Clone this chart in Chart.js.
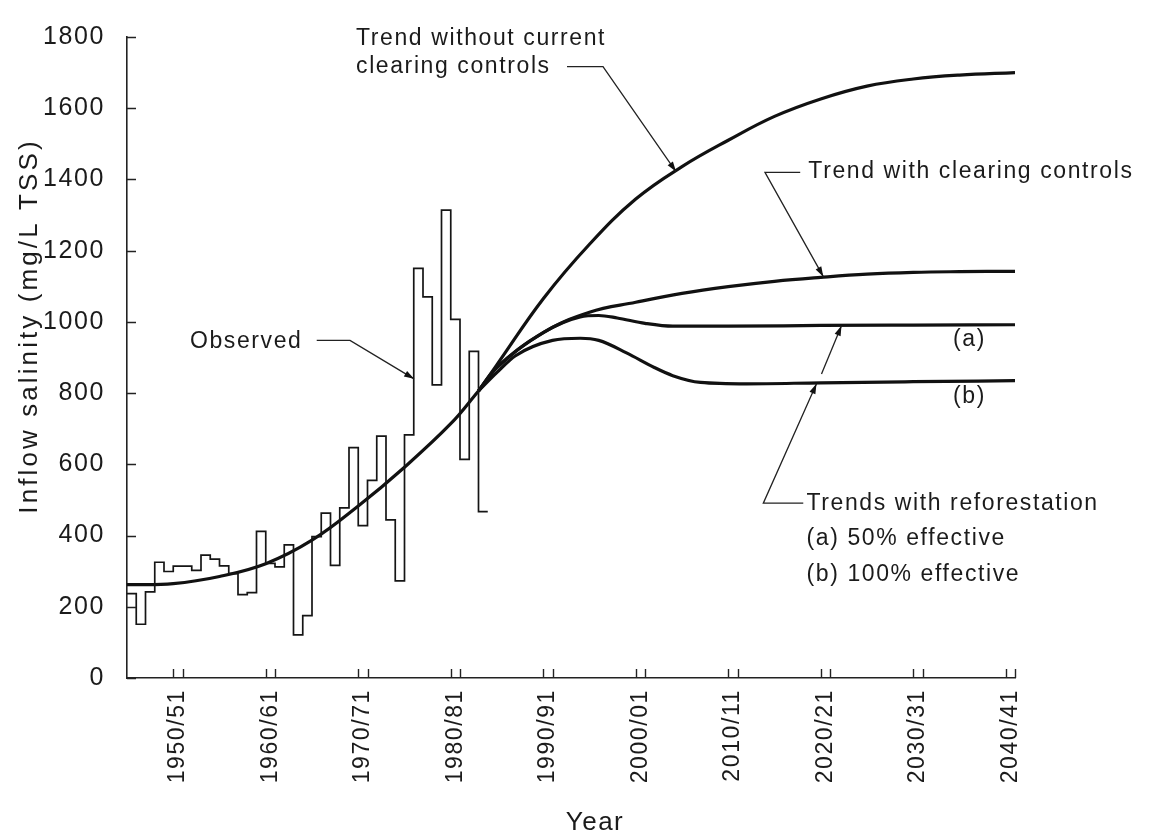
<!DOCTYPE html>
<html>
<head>
<meta charset="utf-8">
<script src="https://cdn.jsdelivr.net/npm/chart.js@4.4.1/dist/chart.umd.min.js"></script>
<style>
html,body{margin:0;padding:0;background:#fff;}
canvas{display:block;}
</style>
</head>
<body>
<canvas id="c" width="1157" height="837"></canvas>
<script>
// ---------- DATA ----------
const observedYears = [1945,1946,1947,1948,1949,1950,1951,1952,1953,1954,1955,1956,1957,1958,1959,1960,1961,1962,1963,1964,1965,1966,1967,1968,1969,1970,1971,1972,1973,1974,1975,1976,1977,1978,1979,1980,1981,1982,1983];
const observedValues = [237,151,242,325,299,314,314,302,345,334,315,293,234,240,412,322,312,374,121,175,397,463,316,478,647,428,555,679,444,273,683,1150,1070,823,1314,1007,614,917,467];

const trendYears  = [1945,1950,1955,1960,1965,1970,1975,1980,1983];
const trendValues = [262,265,285,321,387,483,592,714,806];

const noControlYears  = [1983,1985,1990,1995,2000,2005,2010,2015,2020,2025,2030,2035,2041];
const noControlValues = [806,880,1065,1218,1345,1436,1510,1577,1626,1662,1682,1693,1700];

const controlYears  = [1983,1985,1990,1995,2000,2005,2010,2015,2020,2025,2030,2035,2041];
const controlValues = [806,872,970,1027,1055,1080,1099,1114,1125,1134,1139,1141,1142];

const reforestAYears  = [1983,1985,1990,1994,1996,1998,2001,2004,2010,2020,2030,2041];
const reforestAValues = [806,872,970,1014,1018,1011,996,988,988,990,991,992];

const reforestBYears  = [1983,1985,1987,1991,1994,1996,1999,2002,2004,2007,2012,2020,2030,2041];
const reforestBValues = [806,858,905,948,954,948,913,872,849,830,826,829,832,835];

const xTickYears  = [1950,1960,1970,1980,1990,2000,2010,2020,2030,2040];
const xTickLabels = ['1950/51','1960/61','1970/71','1980/81','1990/91','2000/01','2010/11','2020/21','2030/31','2040/41'];
const yTickValues = [0,200,400,600,800,1000,1200,1400,1600,1800];
const yTickLabels = ['0','200','400','600','800','1000','1200','1400','1600','1800'];

const yAxisTitle = 'Inflow salinity (mg/L TSS)';
const xAxisTitle = 'Year';

// annotation texts (anchored in data units: year, value)
const noteTexts = [
  {text:'Observed', year:1951.8, value:926},
  {text:'Trend without current', year:1969.76, value:1777},
  {text:'clearing controls', year:1969.76, value:1699},
  {text:'Trend with clearing controls', year:2018.66, value:1403},
  {text:'(a)', year:2034.3, value:932},
  {text:'(b)', year:2034.3, value:772},
  {text:'Trends with reforestation', year:2018.46, value:471},
  {text:'(a) 50% effective', year:2018.46, value:373},
  {text:'(b) 100% effective', year:2018.46, value:272}
];
const noteLeaders = [
  [[1965.51,948],[1969.11,948],[1976.03,840]],
  [[1992.57,1717],[1996.46,1717],[2004.35,1422]],
  [[2017.78,1420],[2013.97,1420],[2020.28,1127]],
  [[2018.11,491],[2013.79,491],[2019.54,826]],
  [[2020.08,854],[2022.24,989]]
];

// ---------- helpers ----------
const FONT = '"Liberation Sans", Arial, Helvetica, sans-serif';
const INK = '#1b1b1b';
const pts = (xs, ys) => xs.map((x, i) => ({x, y: ys[i]}));
const observedPoints = pts(observedYears, observedValues);
observedPoints.push({x: observedYears[observedYears.length - 1] + 1, y: observedValues[observedValues.length - 1]});

const curve = (xs, ys, smooth) => ({
  data: pts(xs, ys), borderColor: '#111', borderWidth: 3.2, pointRadius: 0,
  cubicInterpolationMode: smooth ? 'default' : 'monotone', tension: smooth ? 0.4 : 0, fill: false
});

function arrowHead(ctx, x0, y0, x1, y1) {
  const a = Math.atan2(y1 - y0, x1 - x0), L = 10, W = 3.2;
  const bx = x1 - L * Math.cos(a), by = y1 - L * Math.sin(a);
  ctx.beginPath();
  ctx.moveTo(x1, y1);
  ctx.lineTo(bx + W * Math.sin(a), by - W * Math.cos(a));
  ctx.lineTo(bx - W * Math.sin(a), by + W * Math.cos(a));
  ctx.closePath();
  ctx.fill();
}

const spacing = {
  id: 'spacing',
  beforeDraw(chart) { chart.ctx.letterSpacing = '1.6px'; }
};

const decorations = {
  id: 'decorations',
  afterDatasetsDraw(chart) {
    const {ctx, chartArea: a, scales: {x, y}} = chart;
    ctx.save();
    // inward tick marks
    ctx.strokeStyle = '#222';
    ctx.lineWidth = 1.4;
    ctx.beginPath();
    xTickYears.forEach(yr => {
      [yr, yr + 1].forEach(v => {
        const px = Math.round(x.getPixelForValue(v)) + 0.5;
        ctx.moveTo(px, a.bottom);
        ctx.lineTo(px, a.bottom - 9);
      });
    });
    yTickValues.forEach(v => {
      const py = Math.round(y.getPixelForValue(v)) + 0.5;
      ctx.moveTo(a.left, py);
      ctx.lineTo(a.left + 9, py);
    });
    ctx.stroke();

    // leaders
    ctx.strokeStyle = '#222';
    ctx.fillStyle = '#111';
    ctx.lineWidth = 1.3;
    noteLeaders.forEach(line => {
      const p = line.map(([yr, v]) => [x.getPixelForValue(yr), y.getPixelForValue(v)]);
      ctx.beginPath();
      ctx.moveTo(p[0][0], p[0][1]);
      for (let i = 1; i < p.length; i++) ctx.lineTo(p[i][0], p[i][1]);
      ctx.stroke();
      const n = p.length;
      arrowHead(ctx, p[n - 2][0], p[n - 2][1], p[n - 1][0], p[n - 1][1]);
    });

    // texts
    ctx.fillStyle = INK;
    ctx.font = '23px ' + FONT;
    ctx.letterSpacing = '1.6px';
    ctx.textAlign = 'left';
    ctx.textBaseline = 'alphabetic';
    noteTexts.forEach(t => ctx.fillText(t.text, x.getPixelForValue(t.year), y.getPixelForValue(t.value)));

    // axis titles
    ctx.font = '26px ' + FONT;
    ctx.letterSpacing = '3.1px';
    ctx.textAlign = 'center';
    ctx.textBaseline = 'middle';
    ctx.save();
    ctx.translate(a.left - 97, a.top + 289);
    ctx.rotate(-Math.PI / 2);
    ctx.fillText(yAxisTitle, 0, 0);
    ctx.restore();
    ctx.letterSpacing = '1.5px';
    ctx.textBaseline = 'alphabetic';
    ctx.fillText(xAxisTitle, a.left + 468, a.bottom + 152);
    ctx.restore();
  }
};

new Chart(document.getElementById('c'), {
  type: 'line',
  data: {
    datasets: [
      {data: observedPoints, borderColor: '#151515', borderWidth: 1.7, pointRadius: 0, stepped: 'before', fill: false},
      curve(trendYears, trendValues, true),
      curve(noControlYears, noControlValues, true),
      curve(controlYears, controlValues, true),
      curve(reforestAYears, reforestAValues, false),
      curve(reforestBYears, reforestBValues, false)
    ]
  },
  options: {
    responsive: false,
    animation: false,
    events: [],
    layout: {padding: {top: 25, right: 142, bottom: 0, left: 0}},
    plugins: {legend: {display: false}, tooltip: {enabled: false}, title: {display: false}},
    scales: {
      x: {
        type: 'linear', min: 1945, max: 2041,
        afterFit: s => { s.height = 159; },
        afterBuildTicks: s => { s.ticks = xTickYears.map(v => ({value: v + 0.5})); },
        grid: {display: true, drawOnChartArea: false, drawTicks: false},
        border: {display: true, color: '#222', width: 1.6},
        ticks: {
          autoSkip: false, minRotation: 90, maxRotation: 90, padding: 11,
          color: INK, font: {family: FONT, size: 23},
          callback: (v, i) => xTickLabels[i]
        }
      },
      y: {
        type: 'linear', min: 0, max: 1800,
        afterFit: s => { s.width = 127; },
        afterBuildTicks: s => { s.ticks = yTickValues.map(v => ({value: v})); },
        grid: {display: true, drawOnChartArea: false, drawTicks: false},
        border: {display: true, color: '#222', width: 1.6},
        ticks: {
          padding: 22, color: INK, font: {family: FONT, size: 25},
          callback: (v, i) => yTickLabels[i]
        }
      }
    }
  },
  plugins: [spacing, decorations]
});
</script>
</body>
</html>
